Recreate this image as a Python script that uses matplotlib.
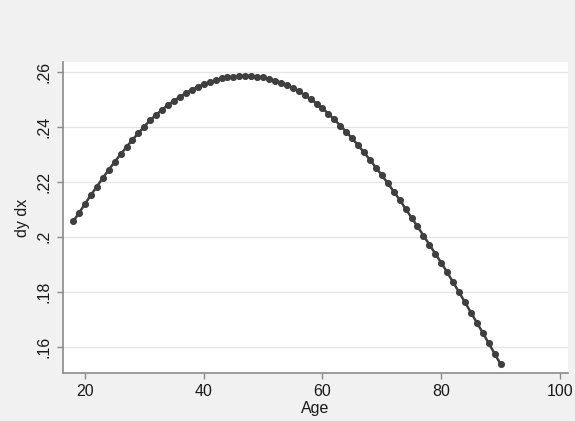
import matplotlib
matplotlib.use("Agg")
import matplotlib.pyplot as plt

plt.rcParams['font.family'] = ['Liberation Sans', 'DejaVu Sans']

# age and marginal effect
age = list(range(18, 91))
dydx = [
    0.2055, 0.2086, 0.2119, 0.2151, 0.2182, 0.2213, 0.2243, 0.2272, 0.2299, 0.2326,
    0.2352, 0.2377, 0.2400, 0.2424, 0.2443, 0.2462, 0.2479, 0.2494, 0.2509, 0.2522,
    0.2534, 0.2545, 0.2554, 0.2562, 0.2569, 0.2575, 0.2579, 0.2582, 0.2584, 0.2585,
    0.2584, 0.2582, 0.2579, 0.2574, 0.2567, 0.2560, 0.2551, 0.2540, 0.2528, 0.2515,
    0.2500, 0.2484, 0.2466, 0.2447, 0.2426, 0.2404, 0.2381, 0.2357, 0.2332, 0.2306,
    0.2279, 0.2251, 0.2223, 0.2194, 0.2164, 0.2134, 0.2101, 0.2069, 0.2037, 0.2004,
    0.1971, 0.1938, 0.1905, 0.1870, 0.1834, 0.1798, 0.1761, 0.1724, 0.1687, 0.1650,
    0.1612, 0.1574, 0.1536,
]
xticks = [20, 40, 60, 80, 100]
yticks = [0.16, 0.18, 0.20, 0.22, 0.24, 0.26]
ylabels = ['.16', '.18', '.2', '.22', '.24', '.26']

bg = '#f1f1f1'
axcol = '#8a8a8a'

fig = plt.figure(figsize=(5.75, 4.21), dpi=100, facecolor=bg)
ax = fig.add_axes([63 / 575, 48 / 421, 505 / 575, 311 / 421])
ax.set_facecolor('white')

ax.plot(age, dydx, color='#3f3f3f', lw=1.8, marker='o', ms=4.1,
        mfc='#3f3f3f', mec='#3f3f3f', zorder=3)

ax.set_xlim(16.3, 101.35)
ax.set_ylim(0.1504, 0.2635)
ax.set_xticks(xticks)
ax.set_yticks(yticks)
ax.set_yticklabels(ylabels, rotation=90, va='center')

ax.grid(axis='y', color='#e6e6e6', lw=1.0)
ax.grid(axis='x', visible=False)
ax.set_axisbelow(True)

for s in ['top', 'right']:
    ax.spines[s].set_visible(False)
for s in ['left', 'bottom']:
    ax.spines[s].set_color(axcol)
    ax.spines[s].set_linewidth(1.2)

ax.tick_params(axis='both', colors=axcol, length=4, width=1.0,
               labelsize=11.5, labelcolor='#1a1a1a', pad=4)

ax.set_xlabel('Age', fontsize=11.5, color='#1a1a1a', labelpad=1)
ax.set_ylabel('dy dx', fontsize=11.5, color='#1a1a1a', labelpad=5)

fig.savefig('out.png', dpi=100, facecolor=bg)
